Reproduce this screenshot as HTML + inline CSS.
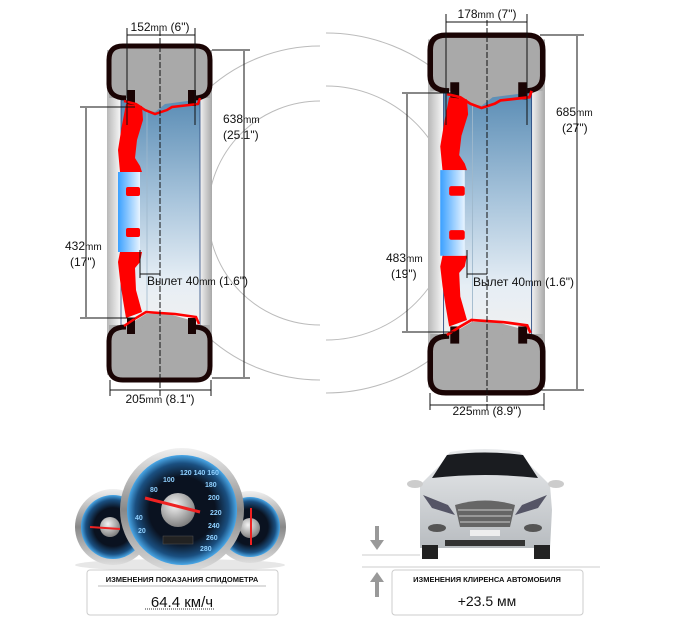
<!DOCTYPE html>
<html><head><meta charset="utf-8"><style>
html,body{margin:0;padding:0;background:#fff}
svg{display:block}
text{font-family:"Liberation Sans",Arial,sans-serif;fill:#111}
</style></head><body>
<svg width="685" height="638" viewBox="0 0 685 638" xmlns="http://www.w3.org/2000/svg">
<defs>
<linearGradient id="side" x1="0" x2="1" y1="0" y2="0">
<stop offset="0" stop-color="#b8b8b8"/><stop offset="0.12" stop-color="#f2f2f2"/><stop offset="0.5" stop-color="#e8e8e8"/><stop offset="0.88" stop-color="#f6f6f6"/><stop offset="1" stop-color="#a8a8a8"/>
</linearGradient>
<linearGradient id="rim" x1="0" x2="0" y1="0" y2="1">
<stop offset="0" stop-color="#5b8db5"/><stop offset="0.45" stop-color="#a9c5dc"/><stop offset="0.8" stop-color="#e6eef5"/><stop offset="1" stop-color="#f0f0f0"/>
</linearGradient>
<linearGradient id="hub" x1="0" x2="1"><stop offset="0" stop-color="#3aa0ff"/><stop offset="1" stop-color="#e8f4ff"/></linearGradient>
<radialGradient id="knob" cx="0.4" cy="0.35" r="0.7"><stop offset="0" stop-color="#f4f4f4"/><stop offset="1" stop-color="#777"/></radialGradient>
<radialGradient id="dial" cx="0.5" cy="0.5" r="0.5"><stop offset="0.6" stop-color="#0a1220"/><stop offset="0.85" stop-color="#1a4f80"/><stop offset="1" stop-color="#4aa8e8"/></radialGradient>
<linearGradient id="bezel" x1="0" x2="0" y1="0" y2="1"><stop offset="0" stop-color="#f0f0f0"/><stop offset="0.5" stop-color="#888"/><stop offset="1" stop-color="#ddd"/></linearGradient>
<linearGradient id="carb" x1="0" x2="0" y1="0" y2="1"><stop offset="0" stop-color="#e8eaec"/><stop offset="1" stop-color="#b8bcc0"/></linearGradient>
<clipPath id="cl"><rect x="0" y="0" width="320" height="638"/></clipPath>
<clipPath id="cr"><rect x="326" y="0" width="360" height="638"/></clipPath>
<g id="wheel">
<rect x="107" y="50" width="105" height="325" fill="url(#side)"/>
<rect x="121" y="100" width="79" height="225" fill="url(#rim)"/>
<line x1="147" y1="105" x2="147" y2="320" stroke="#9fb8cc" stroke-width="0.8"/>
<line x1="200" y1="100" x2="200" y2="325" stroke="#2a4a80" stroke-width="0.8"/>
<line x1="121" y1="100" x2="121" y2="325" stroke="#2a4a80" stroke-width="0.8"/>
<path d="M109,98 L109,60 Q109,46 123,46 L196,46 Q210,46 210,60 L210,98 Z" fill="#a9a9a9"/>
<path d="M125,95 L190,95 L195,100 L165,104 L155,112 L135,108 Z" fill="#a9a9a9"/>
<path d="M126,98 Q109,98 109,84 L109,60 Q109,46 123,46 L196,46 Q210,46 210,60 L210,84 Q210,98 194,98" fill="none" stroke="#1a0404" stroke-width="5"/>
<rect x="127" y="90" width="8" height="16" fill="#1a0404"/>
<rect x="188" y="90" width="8" height="16" fill="#1a0404"/>
<path d="M124,101 L136,104 L145,110 L155,114 L167,110 L172,107 L198,104 L200,98" fill="none" stroke="#f00" stroke-width="2.5"/>
<path d="M109,325 L109,366 Q109,380 123,380 L196,380 Q210,380 210,366 L210,325 Z" fill="#a9a9a9"/>
<path d="M133,322 L146,314 L165,313 L190,320 L196,325 L133,327 Z" fill="#a9a9a9"/>
<path d="M126,327 Q109,327 109,341 L109,366 Q109,380 123,380 L196,380 Q210,380 210,366 L210,341 Q210,327 194,327" fill="none" stroke="#1a0404" stroke-width="5"/>
<rect x="127" y="318" width="8" height="16" fill="#1a0404"/>
<rect x="188" y="318" width="8" height="16" fill="#1a0404"/>
<path d="M124,326 L136,318 L146,312 L160,313 L175,314 L196,317 L199,324" fill="none" stroke="#f00" stroke-width="2.5"/>
<path d="M126,104 L142,106 L143,120 L137,140 L135,158 L140,166 L142,172 L120,172 L118,150 L122,125 Z" fill="#f00"/>
<path d="M120,252 L142,252 L140,262 L135,268 L136,290 L142,312 L126,318 L123,300 L120,280 L118,262 Z" fill="#f00"/>
<rect x="118" y="172" width="22" height="80" fill="url(#hub)"/>
<rect x="126" y="187" width="14" height="9" fill="#f00" rx="2"/>
<rect x="126" y="228" width="14" height="9" fill="#f00" rx="2"/>
</g>
</defs>

<g fill="none" stroke="#bbb" stroke-width="1">
<g clip-path="url(#cl)"><circle cx="320" cy="213" r="167"/><circle cx="320" cy="213" r="112"/></g>
<g clip-path="url(#cr)"><circle cx="326" cy="213" r="180"/><circle cx="326" cy="213" r="127"/></g>
</g>

<use href="#wheel"/>
<line x1="160" y1="30" x2="160" y2="398" stroke="#111" stroke-width="1" stroke-dasharray="6,2"/>
<g stroke="#111" stroke-width="1" fill="none">
<line x1="127" y1="28" x2="127" y2="125"/><line x1="195" y1="28" x2="195" y2="125"/>
<line x1="127" y1="35" x2="195" y2="35"/>
<line x1="212" y1="50" x2="250" y2="50"/><line x1="212" y1="378" x2="250" y2="378"/>
<line x1="244" y1="51" x2="244" y2="377"/>
<line x1="80" y1="107" x2="135" y2="107"/><line x1="80" y1="318" x2="135" y2="318"/>
<line x1="86" y1="108" x2="86" y2="317"/>
<line x1="110" y1="380" x2="110" y2="396"/><line x1="211" y1="380" x2="211" y2="396"/>
<line x1="110" y1="390" x2="211" y2="390"/>
<line x1="140" y1="250" x2="140" y2="278"/>
<line x1="140" y1="274" x2="160" y2="274"/>
</g>
<text x="160" y="31" font-size="12" text-anchor="middle">152<tspan font-size="10">mm</tspan> (6")</text>
<text x="223" y="123" font-size="12">638<tspan font-size="10">mm</tspan></text>
<text x="223" y="139" font-size="12">(25.1")</text>
<text x="65" y="250" font-size="12">432<tspan font-size="10">mm</tspan></text>
<text x="70" y="266" font-size="12">(17")</text>
<text x="147" y="285" font-size="12">Вылет 40<tspan font-size="10">mm</tspan> (1.6")</text>
<text x="160" y="403" font-size="12" text-anchor="middle">205<tspan font-size="10">mm</tspan> (8.1")</text>

<g transform="translate(428,33) scale(1.114,1.071) translate(-107,-44)">
<use href="#wheel"/>
</g>
<line x1="487" y1="20" x2="487" y2="410" stroke="#111" stroke-width="1" stroke-dasharray="6,2"/>
<g stroke="#111" stroke-width="1" fill="none">
<line x1="446" y1="14" x2="446" y2="125"/><line x1="527" y1="14" x2="527" y2="125"/>
<line x1="446" y1="22" x2="527" y2="22"/>
<line x1="540" y1="35" x2="584" y2="35"/><line x1="540" y1="390" x2="584" y2="390"/>
<line x1="577" y1="36" x2="577" y2="389"/>
<line x1="402" y1="93" x2="455" y2="93"/><line x1="402" y1="332" x2="455" y2="332"/>
<line x1="407" y1="94" x2="407" y2="331"/>
<line x1="430" y1="393" x2="430" y2="410"/><line x1="544" y1="393" x2="544" y2="410"/>
<line x1="430" y1="405" x2="544" y2="405"/>
<line x1="467" y1="250" x2="467" y2="278"/>
<line x1="467" y1="274" x2="487" y2="274"/>
</g>
<text x="487" y="18" font-size="12" text-anchor="middle">178<tspan font-size="10">mm</tspan> (7")</text>
<text x="556" y="116" font-size="12">685<tspan font-size="10">mm</tspan></text>
<text x="562" y="132" font-size="12">(27")</text>
<text x="386" y="262" font-size="12">483<tspan font-size="10">mm</tspan></text>
<text x="391" y="278" font-size="12">(19")</text>
<text x="473" y="286" font-size="12">Вылет 40<tspan font-size="10">mm</tspan> (1.6")</text>
<text x="487" y="415" font-size="12" text-anchor="middle">225<tspan font-size="10">mm</tspan> (8.9")</text>

<ellipse cx="180" cy="565" rx="105" ry="6" fill="#ddd" opacity="0.7"/>
<circle cx="113" cy="527" r="38" fill="url(#bezel)"/>
<circle cx="113" cy="527" r="32" fill="url(#dial)"/>
<circle cx="110" cy="527" r="10" fill="url(#knob)"/>
<line x1="90" y1="527" x2="120" y2="529" stroke="#e22" stroke-width="2"/>
<circle cx="250" cy="527" r="36" fill="url(#bezel)"/>
<circle cx="250" cy="527" r="30" fill="url(#dial)"/>
<circle cx="250" cy="528" r="10" fill="url(#knob)"/>
<line x1="251" y1="508" x2="251" y2="545" stroke="#e22" stroke-width="2"/>
<circle cx="182" cy="510" r="62" fill="url(#bezel)"/>
<circle cx="182" cy="510" r="55" fill="url(#dial)"/>
<circle cx="178" cy="510" r="17" fill="url(#knob)"/>
<line x1="145" y1="498" x2="200" y2="512" stroke="#e22" stroke-width="3"/>
<rect x="163" y="536" width="30" height="8" fill="#222" stroke="#555" stroke-width="0.5"/>
<g font-size="7" font-weight="bold">
<text x="135" y="520" style="fill:#8fd0ff">40</text><text x="138" y="533" style="fill:#8fd0ff">20</text><text x="150" y="492" style="fill:#8fd0ff">80</text><text x="163" y="482" style="fill:#8fd0ff">100</text><text x="180" y="475" style="fill:#8fd0ff">120 140 160</text><text x="205" y="487" style="fill:#8fd0ff">180</text><text x="208" y="500" style="fill:#8fd0ff">200</text><text x="210" y="515" style="fill:#8fd0ff">220</text><text x="208" y="528" style="fill:#8fd0ff">240</text><text x="206" y="540" style="fill:#8fd0ff">260</text><text x="200" y="551" style="fill:#8fd0ff">280</text>
</g>
<rect x="87" y="570" width="191" height="45" rx="3" fill="#fff" stroke="#ccc"/>
<text x="182" y="582" font-size="7.5" font-weight="bold" text-anchor="middle">ИЗМЕНЕНИЯ ПОКАЗАНИЯ СПИДОМЕТРА</text>
<line x1="98" y1="586" x2="266" y2="586" stroke="#bbb"/>
<text x="182" y="607" font-size="15" text-anchor="middle">64.4 км/ч</text>
<line x1="145" y1="609" x2="214" y2="609" stroke="#333" stroke-dasharray="1,1"/>

<path d="M420,510 L420,485 L440,465 L450,452 Q485,446 520,452 L530,465 L550,485 L552,510 L550,548 L420,548 Z" fill="url(#carb)"/>
<path d="M432,478 L447,455 Q485,450 523,455 L538,478 Q485,472 432,478 Z" fill="#1a1c20"/>
<rect x="422" y="545" width="16" height="14" fill="#222"/><rect x="534" y="545" width="16" height="14" fill="#222"/>
<path d="M455,505 Q485,496 515,505 L510,527 L460,527 Z" fill="#666"/>
<g stroke="#ccc" stroke-width="1"><line x1="458" y1="510" x2="512" y2="510"/><line x1="459" y1="516" x2="511" y2="516"/><line x1="460" y1="522" x2="510" y2="522"/></g>
<path d="M423,495 L448,505 L455,515 L432,508 Z" fill="#556"/><path d="M547,495 L522,505 L515,515 L538,508 Z" fill="#556"/>
<rect x="470" y="530" width="30" height="6" fill="#eee"/>
<ellipse cx="437" cy="528" rx="9" ry="4" fill="#555"/><ellipse cx="533" cy="528" rx="9" ry="4" fill="#555"/>
<rect x="445" y="540" width="80" height="6" fill="#333"/>
<ellipse cx="415" cy="484" rx="8" ry="4" fill="#ccc"/><ellipse cx="556" cy="484" rx="8" ry="4" fill="#ccc"/>
<line x1="362" y1="555" x2="420" y2="555" stroke="#ccc"/>
<line x1="362" y1="567" x2="600" y2="567" stroke="#ccc"/>
<g fill="#999"><rect x="375" y="526" width="4" height="14"/><path d="M370,540 L384,540 L377,550 Z"/>
<rect x="375" y="582" width="4" height="15"/><path d="M370,582 L384,582 L377,572 Z"/></g>
<rect x="392" y="570" width="191" height="45" rx="3" fill="#fff" stroke="#ccc"/>
<text x="487" y="582" font-size="7.5" font-weight="bold" text-anchor="middle">ИЗМЕНЕНИЯ КЛИРЕНСА АВТОМОБИЛЯ</text>
<text x="487" y="606" font-size="14" text-anchor="middle">+23.5 мм</text>
</svg>
</body></html>
